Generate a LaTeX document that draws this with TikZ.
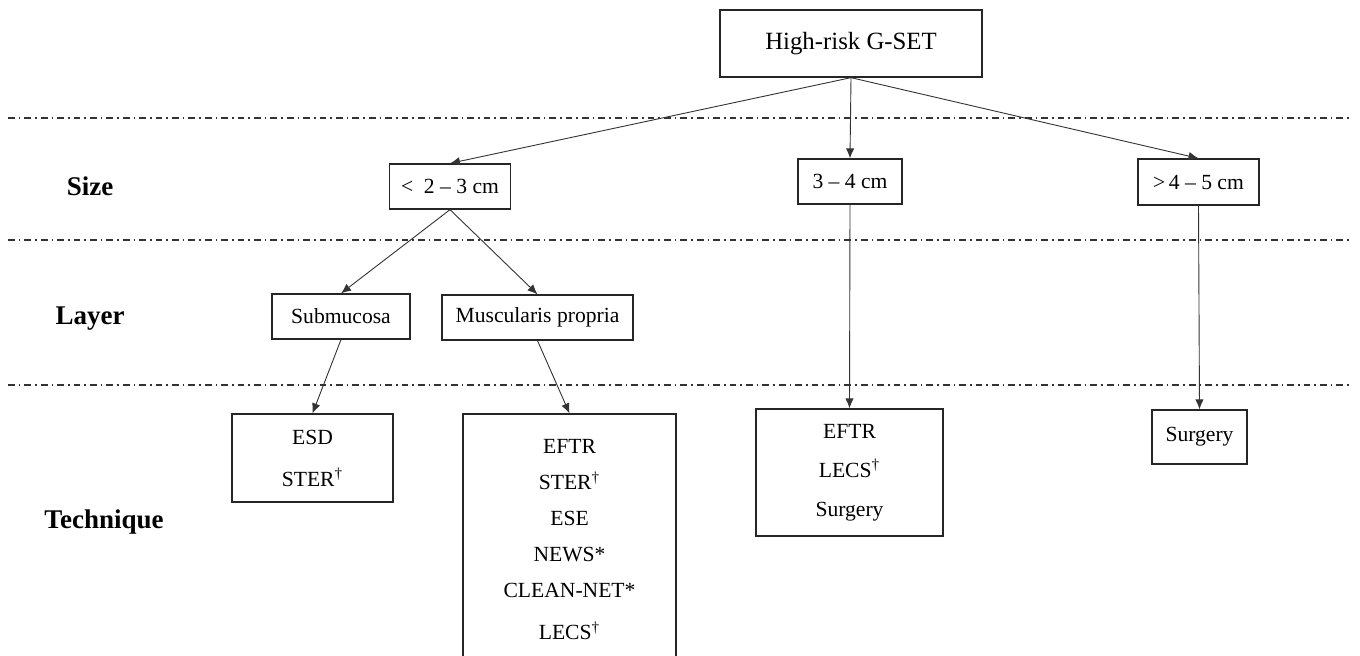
\documentclass[tikz,border=0pt]{standalone}
\usepackage{fontspec}
\setmainfont{Liberation Serif}
\usetikzlibrary{arrows.meta,positioning}
\newcommand{\dg}{\textsuperscript{\textdagger}}

\begin{document}
\begin{tikzpicture}[x=0.5pt,y=-0.5pt]
\tikzstyle{main}=[rectangle, draw=black!85, line width=0.65pt, inner sep=0pt, align=center, font=\fontsize{10.8}{12}\selectfont]
\tikzstyle{connect}=[-{Latex[length=5pt,width=4.2pt]}, line width=0.45pt, draw=black!80]
\tikzstyle{level}=[anchor=base, font=\fontsize{13.5}{15}\selectfont\bfseries]
\tikzstyle{divider}=[line width=0.7pt, draw=black!80, dash pattern=on 3.4pt off 2pt on 0.8pt off 2pt]
\useasboundingbox (0,0) rectangle (1360,655);
% row dividers
\foreach \y in {118,240,385}
  \draw[divider] (8,\y) -- (1352,\y);
% row names
\node[level] (Size) at (90,195) {Size};
\node[level] (Layer) at (90,324) {Layer};
\node[level] (Technique) at (104,528) {Technique};
% tree
\node[main, minimum width=131pt, minimum height=33.5pt, font=\fontsize{12.4}{14}\selectfont] (Gset) at (851,43.5) {High-risk G-SET};
\node[main, minimum width=60.5pt, minimum height=22.5pt] (Small) at (450,186.5) {<\enspace2 -- 3 cm};
\node[main, minimum width=52pt, minimum height=22.5pt] (Mid) at (850,181.5) {3 -- 4 cm};
\node[main, minimum width=60.5pt, minimum height=23pt] (Large) at (1198.5,182) {>\,4 -- 5 cm};
\node[main, minimum width=69pt, minimum height=22.5pt] (Submuc) at (341,316.5) {Submucosa};
\node[main, minimum width=95.5pt, minimum height=22.5pt] (Muscp) at (537.5,317.5) {Muscularis propria};
\node[main, minimum width=80.5pt, minimum height=44pt] (TechSub) at (312.5,458) {ESD\\[9pt]STER\dg};
\node[main, minimum width=106.5pt, minimum height=126pt] (TechMus) at (569.5,540) {EFTR\\[6pt]STER\dg\\[6pt]ESE\\[6pt]NEWS*\\[6pt]CLEAN-NET*\\[9pt]LECS\dg};
\node[main, minimum width=93.5pt, minimum height=63.5pt] (TechMid) at (849.5,472.5) {EFTR\\[7.5pt]LECS\dg\\[7.5pt]Surgery};
\node[main, minimum width=47.5pt, minimum height=27pt] (TechLarge) at (1199.5,437) {Surgery};
  \path (Gset.south) edge [connect] (Small.north)
  	(Gset.south) edge [connect] (Mid.north)
  	(Gset.south) edge [connect] (Large.north)
  	(Small.south) edge [connect] (Submuc.north)
  	(Small.south) edge [connect] (Muscp.north)
  	(Submuc.south) edge [connect] (TechSub.north)
  	(Muscp.south) edge [connect] (TechMus.north)
  	(Mid.south) edge [connect] (TechMid.north)
  	(Large.south) edge [connect] (TechLarge.north);
\end{tikzpicture}
\end{document}
